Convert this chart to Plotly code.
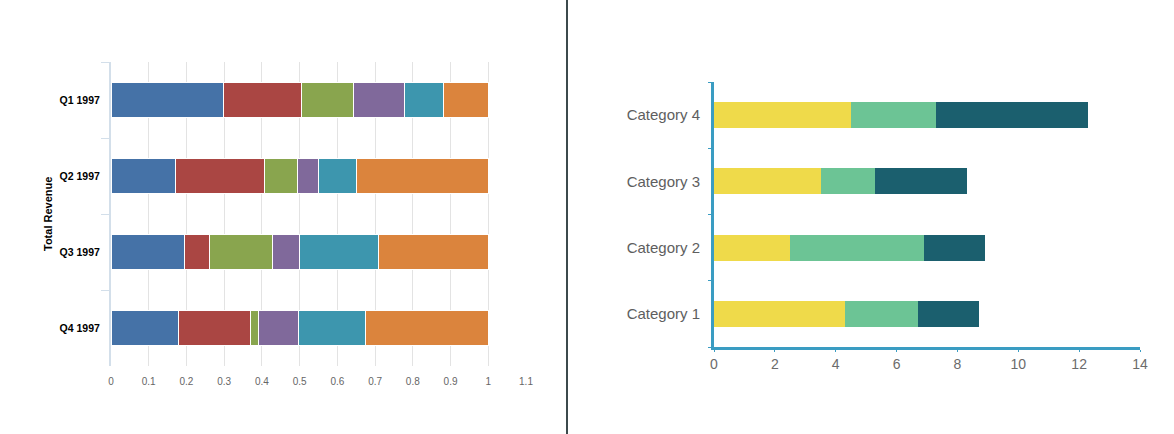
import plotly.graph_objects as go

W, H = 1174, 434

# ---- Left chart data (100% stacked share of total revenue) ----
quarters = ["Q1 1997", "Q2 1997", "Q3 1997", "Q4 1997"]
left_series = {
    "S1": [0.298, 0.172, 0.195, 0.180],
    "S2": [0.206, 0.235, 0.066, 0.191],
    "S3": [0.139, 0.087, 0.168, 0.020],
    "S4": [0.135, 0.056, 0.071, 0.107],
    "S5": [0.104, 0.102, 0.209, 0.176],
    "S6": [0.118, 0.348, 0.291, 0.326],
}
left_colors = ["#4572A7", "#AA4643", "#89A54E", "#80699B", "#3D96AE", "#DB843D"]
left_xticks = [0, 0.1, 0.2, 0.3, 0.4, 0.5, 0.6, 0.7, 0.8, 0.9, 1, 1.1]

# ---- Right chart data ----
categories = ["Category 1", "Category 2", "Category 3", "Category 4"]
right_series = {
    "Series 1": [4.3, 2.5, 3.5, 4.5],
    "Series 2": [2.4, 4.4, 1.8, 2.8],
    "Series 3": [2.0, 2.0, 3.0, 5.0],
}
right_colors = ["#EFDA4A", "#6CC495", "#1B5F6E"]
right_xticks = [0, 2, 4, 6, 8, 10, 12, 14]

fig = go.Figure()

for (name, vals), col in zip(left_series.items(), left_colors):
    fig.add_trace(go.Bar(
        x=vals, y=quarters, orientation="h", name=name,
        marker=dict(color=col, line=dict(color="white", width=1)),
        width=0.47, xaxis="x", yaxis="y", showlegend=False,
    ))

for (name, vals), col in zip(right_series.items(), right_colors):
    fig.add_trace(go.Bar(
        x=vals, y=categories, orientation="h", name=name,
        marker=dict(color=col, line=dict(width=0)),
        width=0.39, xaxis="x2", yaxis="y2", showlegend=False,
    ))

def px_x(p):
    return p / W

def px_y(p):
    return (H - p) / H

axis_font = "Liberation Sans, Arial, sans-serif"

fig.update_layout(
    width=W, height=H, autosize=False,
    margin=dict(l=0, r=0, t=0, b=0, pad=0),
    paper_bgcolor="white", plot_bgcolor="white",
    barmode="stack",
    font=dict(family=axis_font),
    xaxis=dict(
        domain=[px_x(111), px_x(526)], range=[0, 1.1], automargin=False,
        tickvals=left_xticks, ticks="", showgrid=True,
        gridcolor="#E3E3E3", gridwidth=1, zeroline=False, showline=False,
        tickfont=dict(size=10, color="#666666"), ticklabelstandoff=8,
        anchor="y",
    ),
    yaxis=dict(
        domain=[px_y(366), px_y(62)], type="category", automargin=False,
        categoryorder="array", categoryarray=quarters, autorange="reversed",
        tickson="boundaries", ticks="outside", ticklen=8, tickcolor="#D3DFEA",
        showline=True, linecolor="#D3DFEA", linewidth=2, showgrid=False,
        tickfont=dict(size=10.5, color="#000000", weight="bold"),
        ticklabelstandoff=7, anchor="x",
    ),
    xaxis2=dict(
        domain=[px_x(714), px_x(1140)], range=[0, 14], automargin=False,
        tickvals=right_xticks, ticks="outside", ticklen=2, tickcolor="#3A9CC2",
        showgrid=False, zeroline=False, showline=True, linecolor="#3A9CC2",
        linewidth=3, tickfont=dict(size=14, color="#6B6B6B"),
        ticklabelstandoff=0, anchor="y2",
    ),
    yaxis2=dict(
        domain=[px_y(347), px_y(82)], type="category", automargin=False,
        categoryorder="array", categoryarray=categories,
        tickson="boundaries", ticks="outside", ticklen=3, tickcolor="#3A9CC2",
        showline=True, linecolor="#3A9CC2", linewidth=3, showgrid=False,
        tickfont=dict(size=15, color="#5E5E5E"), ticklabelstandoff=8,
        anchor="x2",
    ),
    annotations=[
        dict(text="<b>Total Revenue</b>", x=px_x(48), y=px_y(214),
             xref="paper", yref="paper", textangle=-90, showarrow=False,
             xanchor="center", yanchor="middle",
             font=dict(size=11, color="#000000")),
    ],
    shapes=[
        dict(type="line", xref="paper", yref="paper",
             x0=px_x(567), x1=px_x(567), y0=0, y1=1,
             line=dict(color="#3C4A4C", width=2)),
    ],
)

fig.write_html(
    "out.html",
    config={"responsive": False, "displayModeBar": False},
    post_script=(
        "document.documentElement.style.margin='0';"
        "document.documentElement.style.padding='0';"
        "document.documentElement.style.overflow='hidden';"
        "document.body.style.margin='0';"
        "document.body.style.padding='0';"
        "document.body.style.overflow='hidden';"
    ),
)
